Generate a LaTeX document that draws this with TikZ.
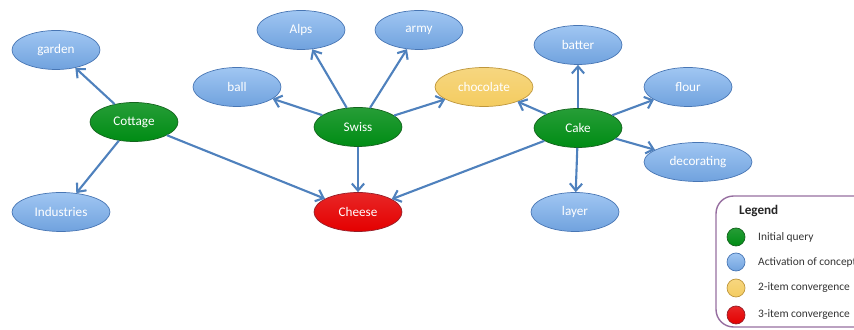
\documentclass[tikz,border=0pt]{standalone}
\usepackage{fontspec}
\setmainfont{Carlito}
\usepackage{tikz}
\usetikzlibrary{shapes.geometric,arrows.meta}
\definecolor{edgeblue}{RGB}{79,129,189}
\definecolor{cblue}{RGB}{112,162,222}
\definecolor{cbluetop}{RGB}{160,198,242}
\definecolor{cblueline}{RGB}{72,118,180}
\definecolor{cgreen}{RGB}{0,140,20}
\definecolor{cgreenline}{RGB}{20,100,30}
\definecolor{cyellow}{RGB}{244,204,96}
\definecolor{cyellowline}{RGB}{190,150,60}
\definecolor{cred}{RGB}{228,0,0}
\definecolor{credline}{RGB}{150,30,40}
\definecolor{legendline}{RGB}{150,110,160}
\tikzset{concept/.style={ellipse, draw=cblueline, thin, top color=cbluetop, bottom color=cblue,
      text=white, inner sep=0pt, minimum width=1.76cm, minimum height=0.78cm, font=\fontsize{7.5}{9}\selectfont}}
\tikzset{query/.style={concept, draw=cgreenline, top color=cgreen!85!white, bottom color=cgreen}}
\tikzset{twoitem/.style={concept, draw=cyellowline, top color=cyellow!80!white, bottom color=cyellow}}
\tikzset{threeitem/.style={concept, draw=credline, top color=cred!85!white, bottom color=cred}}
\tikzset{link/.style={draw=edgeblue, line width=1.2pt, -{Straight Barb[length=4pt,width=7pt]}}}
\tikzset{dot/.style={circle, inner sep=0pt, minimum size=0.36cm}}

\begin{document}
\begin{tikzpicture}[x=0.02cm,y=-0.02cm]
    \useasboundingbox (0,0) rectangle (854,330);
    % concept nodes
    \node[concept] (garden) at (56,50) {garden};
    \node[query] (cottage) at (134,122) {Cottage};
    \node[concept, minimum width=1.96cm] (industries) at (61,212) {Industries};
    \node[concept] (ball) at (237,87) {ball};
    \node[concept] (alps) at (301,30) {Alps};
    \node[concept] (army) at (419,30) {army};
    \node[query] (swiss) at (358,127) {Swiss};
    \node[twoitem, minimum width=1.96cm] (chocolate) at (484,87) {chocolate};
    \node[threeitem] (cheese) at (358,212) {Cheese};
    \node[concept] (batter) at (578,45) {batter};
    \node[concept] (flour) at (688,87) {flour};
    \node[query] (cake) at (578,128) {Cake};
    \node[concept, minimum width=2.16cm] (decorating) at (698,162) {decorating};
    \node[concept] (layer) at (575,212) {layer};

    \draw[link] (cottage) -- (garden);
    \draw[link] (cottage) -- (industries);
    \draw[link] (cottage) -- (cheese);
    \draw[link] (swiss) -- (ball);
    \draw[link] (swiss) -- (alps);
    \draw[link] (swiss) -- (army);
    \draw[link] (swiss) -- (chocolate);
    \draw[link] (swiss) -- (cheese);
    \draw[link] (cake) -- (chocolate);
    \draw[link] (cake) -- (batter);
    \draw[link] (cake) -- (flour);
    \draw[link] (cake) -- (decorating);
    \draw[link] (cake) -- (layer);
    \draw[link] (cake) -- (cheese);

    % legend
    \draw[legendline, thick, rounded corners=10pt] (716,196) rectangle (880,327);
    \node[anchor=west, font=\fontsize{7.5}{9}\selectfont\bfseries, text=black!85] (legend) at (733,211) {Legend};
    \node[dot, draw=cgreenline, top color=cgreen!85!white, bottom color=cgreen] (d1) at (736,237) {};
    \node[dot, draw=cblueline, top color=cbluetop, bottom color=cblue] (d2) at (736,262) {};
    \node[dot, draw=cyellowline, top color=cyellow!80!white, bottom color=cyellow] (d3) at (736,288) {};
    \node[dot, draw=credline, top color=cred!85!white, bottom color=cred] (d4) at (736,315) {};
    \node[anchor=west, font=\fontsize{6.5}{8}\selectfont, text=black!80] at (752,237) {Initial query};
    \node[anchor=west, font=\fontsize{6.5}{8}\selectfont, text=black!80] at (752,262) {Activation of concept};
    \node[anchor=west, font=\fontsize{6.5}{8}\selectfont, text=black!80] at (752,288) {2-item convergence};
    \node[anchor=west, font=\fontsize{6.5}{8}\selectfont, text=black!80] at (752,315) {3-item convergence};
  \end{tikzpicture}
\end{document}
